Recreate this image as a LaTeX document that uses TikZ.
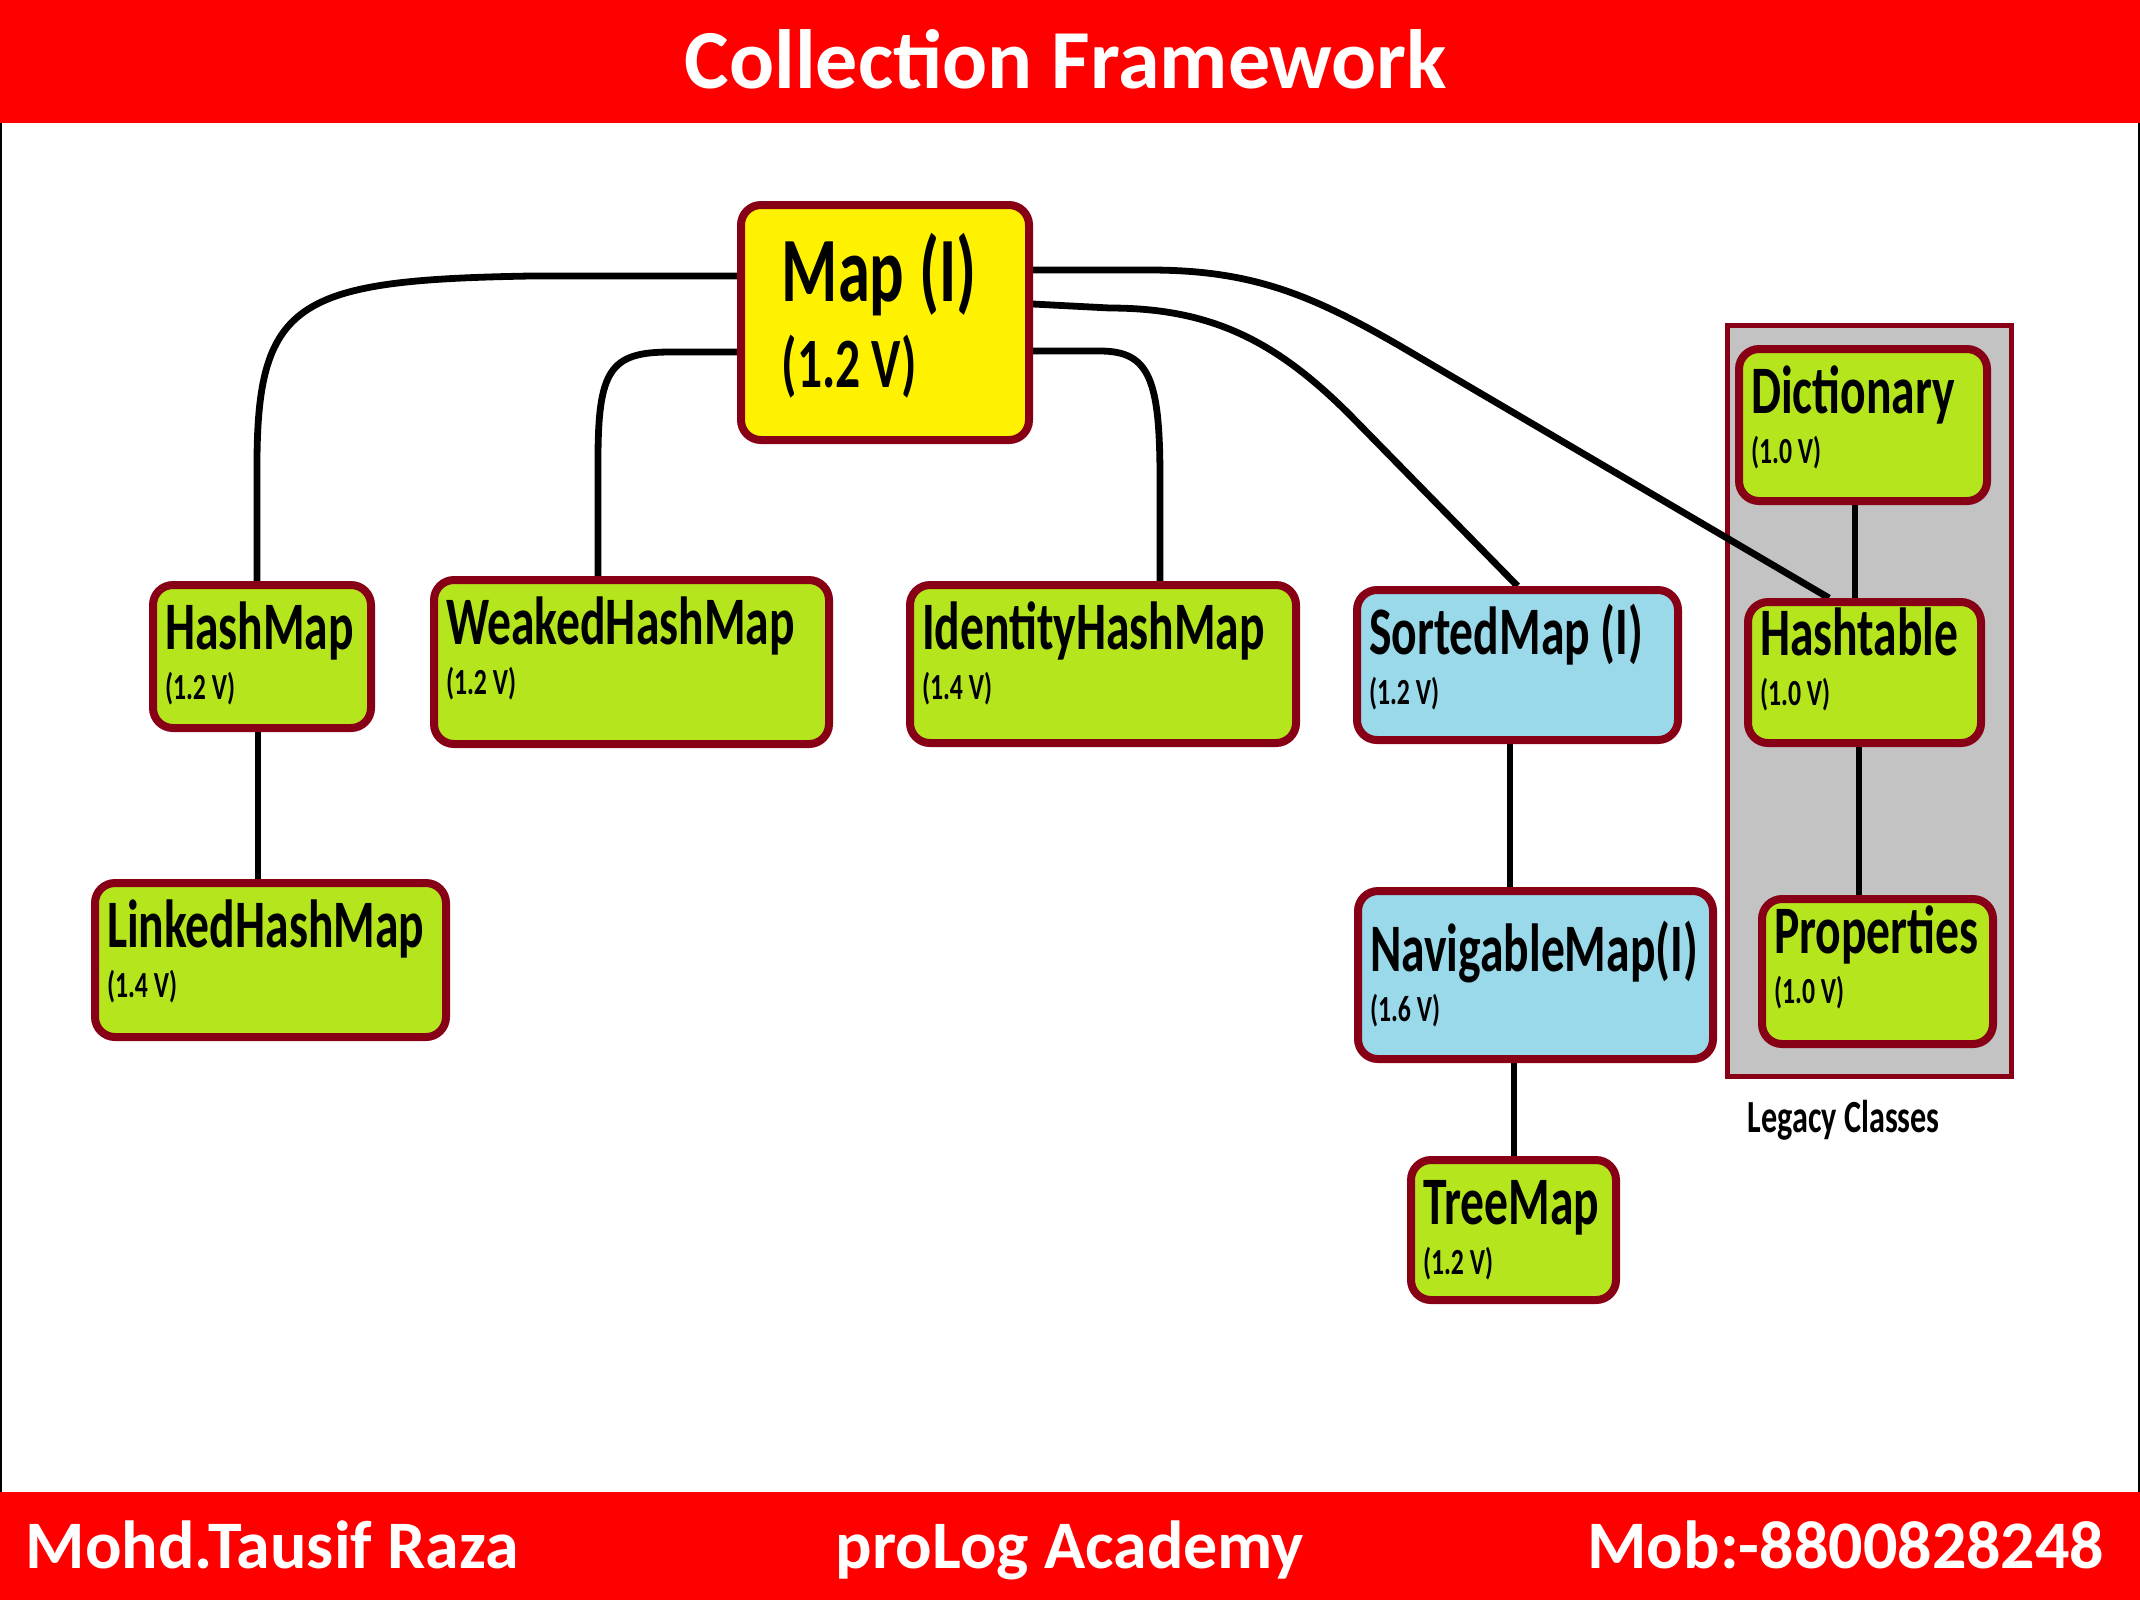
\documentclass[tikz,border=0pt]{standalone}
\usepackage{fontspec}
\setmainfont{Carlito}
\usetikzlibrary{backgrounds}
\definecolor{bandred}{RGB}{255,0,0}
\definecolor{mapyellow}{RGB}{255,242,0}
\definecolor{leafgreen}{RGB}{181,230,29}
\definecolor{ifaceblue}{RGB}{153,217,234}
\definecolor{boxborder}{RGB}{136,0,21}
\definecolor{legacygray}{RGB}{195,195,195}
\newcommand{\cond}[1]{\scalebox{0.7}[1]{#1}}
\tikzset{
  box/.style={draw=boxborder, line width=2pt, rounded corners=5pt, anchor=north west, inner sep=0pt},
  name text/.style={anchor=base west, inner sep=0pt, font=\fontsize{17}{20}\selectfont\bfseries},
  ver text/.style={anchor=base west, inner sep=0pt, font=\fontsize{9.2}{11}\selectfont\bfseries},
  cls/.style n args={3}{box,
    label={[name text, xshift=3.8pt, yshift=-17pt-(#3)]north west:\cond{#1}},
    label={[ver text, xshift=3.8pt, yshift=-29.5pt-(#3)]north west:\cond{#2}}},
  leaf/.style={fill=leafgreen},
  iface/.style={fill=ifaceblue},
  link/.style={line width=1.5pt},
  root link/.style={line width=1.7pt},
  legacy/.style={draw=boxborder, line width=1.25pt, fill=legacygray},
  band text/.style={text=white, inner sep=0pt, font=\fontsize{17}{20}\selectfont\bfseries},
}

\begin{document}
\begin{tikzpicture}[x=0.25pt,y=-0.25pt]
\useasboundingbox (0,0) rectangle (2140,1600);
% header and footer bands
\fill[bandred] (0,0) rectangle (2140,123);
\fill[bandred] (0,1492) rectangle (2140,1600);
\draw[line width=0.6pt] (1,123) -- (1,1492) (2139,123) -- (2139,1492);
\node[band text, font=\fontsize{21}{25}\selectfont\bfseries, anchor=base] (title) at (1066,88) {Collection Framework};
\node[band text, anchor=base west] (author) at (25,1568) {Mohd.Tausif Raza};
\node[band text, anchor=base] (academy) at (1070,1568) {proLog Academy};
\node[band text, anchor=base east] (phone) at (2105,1568) {Mob:-8800828248};

% the root interface
\node[box, fill=mapyellow, minimum width=72pt, minimum height=58.75pt,
  label={[name text, font=\fontsize{23}{27}\selectfont\bfseries, xshift=11pt, yshift=-25pt]north west:\cond{Map (I)}},
  label={[ver text, font=\fontsize{17.7}{21}\selectfont\bfseries, xshift=11pt, yshift=-46.5pt]north west:\cond{(1.2 V)}}]
  (map) at (737,201) {};

% implementation classes
\node[cls={HashMap}{(1.2 V)}{0pt}, leaf, minimum width=54.5pt, minimum height=35.75pt] (hm) at (149,581) {};
\node[cls={WeakedHashMap}{(1.2 V)}{0pt}, leaf, minimum width=98.75pt, minimum height=41pt] (whm) at (430,576) {};
\node[cls={IdentityHashMap}{(1.4 V)}{0pt}, leaf, minimum width=96.5pt, minimum height=39.5pt] (ihm) at (906,581) {};
\node[cls={SortedMap (I)}{(1.2 V)}{0pt}, iface, minimum width=80.25pt, minimum height=37.5pt] (sm) at (1353,586) {};
\node[cls={LinkedHashMap}{(1.4 V)}{0pt}, leaf, minimum width=87.75pt, minimum height=38.5pt] (lhm) at (91,879) {};
\node[cls={NavigableMap(I)}{(1.6 V)}{4pt}, iface, minimum width=88.75pt, minimum height=42pt] (nm) at (1354,887) {};
\node[cls={TreeMap}{(1.2 V)}{0pt}, leaf, minimum width=51.25pt, minimum height=35pt] (tm) at (1407,1156) {};

% legacy classes
\node[cls={Dictionary}{(1.0 V)}{0pt}, leaf, minimum width=62pt, minimum height=38pt] (dict) at (1735,345) {};
\node[cls={Hashtable}{(1.0 V)}{-2.75pt}, leaf, minimum width=58.25pt, minimum height=35.25pt] (ht) at (1744,598) {};
\node[cls={Properties}{(1.0 V)}{-2.5pt}, leaf, minimum width=57.75pt, minimum height=36.25pt] (prop) at (1758,895) {};
\node[anchor=base west, inner sep=0pt, font=\fontsize{11.5}{14}\selectfont\bfseries] (legacy label) at (1747,1132) {\cond{Legacy Classes}};

\begin{scope}[on background layer]
% the grey frame round the legacy classes
\draw[legacy] (1727,325) rectangle (2011,1076);
% lines from Map
\draw[root link] (map.west |- 0,276) -- (530,276) .. controls (300,280) and (258,300) .. (257,460) -- (hm.north -| 257,0);
\draw[root link] (map.west |- 0,352) -- (670,352) .. controls (610,352) and (598,370) .. (598,460) -- (whm.north -| 598,0);
\draw[root link] (map.east |- 0,351) -- (1100,351) .. controls (1150,351) and (1160,380) .. (1160,480) -- (ihm.north -| 1160,0);
\draw[root link] (map.east |- 0,304) -- (1110,308) to[out=0,in=135] (1350,415) -- (sm.north);
\draw[root link] (map.east |- 0,270) -- (1150,270) to[out=0,in=150] (1400,346) -- (ht.north -| 1829,0);
% the other lines
\draw[link] (hm.south -| 258,0) -- (lhm.north -| 258,0);
\draw[link] (sm.south -| 1510,0) -- (nm.north -| 1510,0);
\draw[link] (nm.south -| 1514,0) -- (tm.north -| 1514,0);
\draw[link] (dict.south -| 1855,0) -- (ht.north -| 1855,0);
\draw[link] (ht.south -| 1859,0) -- (prop.north -| 1859,0);
\end{scope}
\end{tikzpicture}
\end{document}
